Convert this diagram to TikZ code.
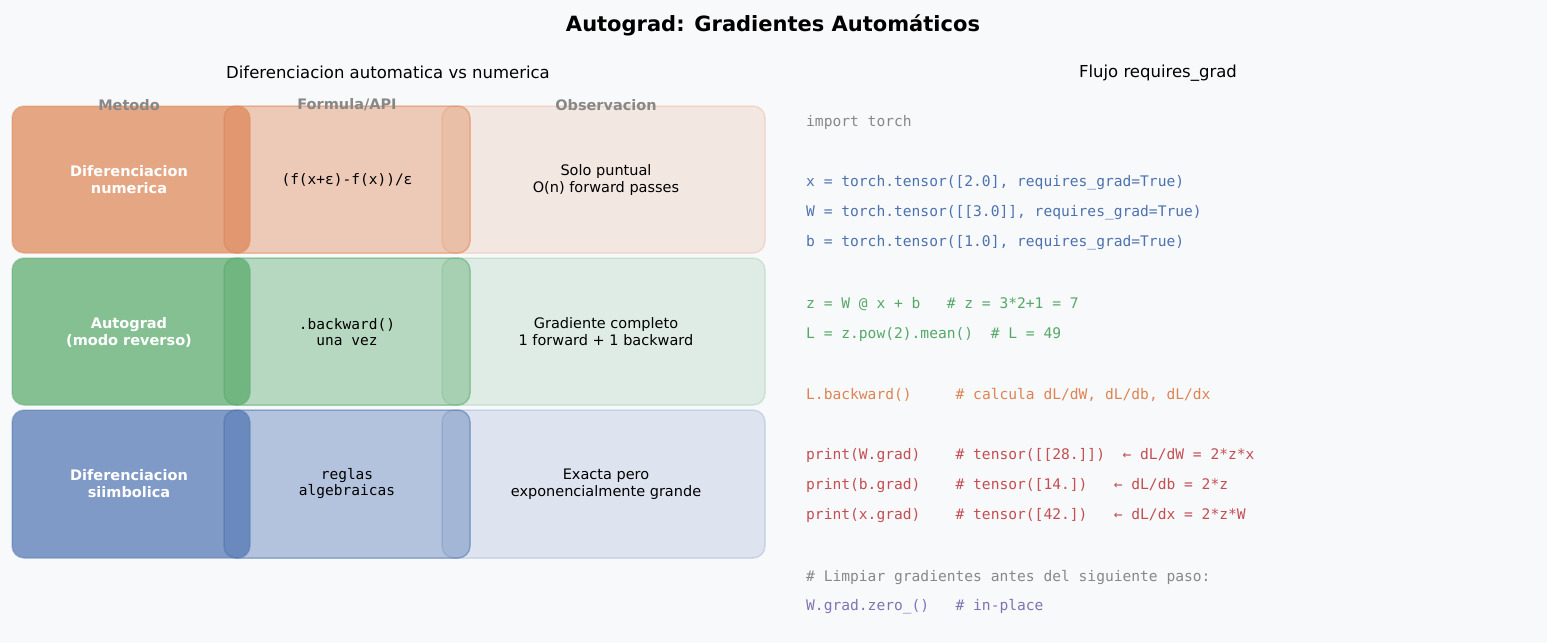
\documentclass[tikz,border=0pt]{standalone}
\usepackage{fontspec}
\setmainfont{DejaVu Sans}
\newfontfamily\codefont{DejaVu Sans Mono}
\begin{document}
\definecolor{bg}{HTML}{F8F9FB}
\definecolor{cor}{HTML}{DD8452}
\definecolor{cgr}{HTML}{55A868}
\definecolor{cbl}{HTML}{4C72B0}
\definecolor{cre}{HTML}{C44E52}
\definecolor{cpu}{HTML}{8172B3}
\definecolor{cgy}{HTML}{888888}
\begin{tikzpicture}[x=1pt,y=-1pt,
  cell/.style={rounded corners=12pt,line width=1.5pt},
  c1/.style={cell,fill=#1,fill opacity=0.7,draw=#1,draw opacity=0.35},
  c2/.style={cell,fill=#1,fill opacity=0.4,draw=#1,draw opacity=0.5},
  c3/.style={cell,fill=#1,fill opacity=0.15,draw=#1,draw opacity=0.2},
  hdr/.style={font=\fontsize{14.5}{16}\selectfont\bfseries,text=cgy},
  mtxt/.style={font=\fontsize{14.5}{17}\selectfont\bfseries,text=white,align=center},
  ftxt/.style={font=\codefont\fontsize{14.5}{16}\selectfont,align=center},
  otxt/.style={font=\fontsize{14.5}{17}\selectfont,align=center},
  code/.style={font=\codefont\fontsize{14.6}{16}\selectfont,anchor=west,inner sep=0pt}]
\fill[bg] (0,0) rectangle (1547,643);
\node[font=\fontsize{21}{24}\selectfont\bfseries] (title) at (773,25) {Autograd: Gradientes Automáticos};
\node[font=\fontsize{16.5}{19}\selectfont] (st1) at (388,72) {Diferenciacion automatica vs numerica};
\node[font=\fontsize{16.5}{19}\selectfont] (st2) at (1158,73) {Flujo requires\_grad};
% rows
\foreach \c/\ya/\yb in {cor/106/253,cgr/258/405,cbl/410/558}{
  \draw[c1=\c] (12,\ya) rectangle (250,\yb);
  \draw[c2=\c] (224,\ya) rectangle (470,\yb);
  \draw[c3=\c] (442,\ya) rectangle (765,\yb);
}
\node[hdr] (h1) at (129,105) {Metodo};
\node[hdr] (h2) at (347,105) {Formula/API};
\node[hdr] (h3) at (606,105) {Observacion};
\node[mtxt] (m1) at (129,180) {Diferenciacion\\numerica};
\node[ftxt] (f1) at (347,180) {(f(x+ε)-f(x))/ε};
\node[otxt] (o1) at (606,180) {Solo puntual\\O(n) forward passes};
\node[mtxt] (m2) at (129,332) {Autograd\\(modo reverso)};
\node[ftxt] (f2) at (347,332) {.backward()\\una vez};
\node[otxt] (o2) at (606,332) {Gradiente completo\\1 forward + 1 backward};
\node[mtxt] (m3) at (129,484) {Diferenciacion\\siimbolica};
\node[ftxt] (f3) at (347,484) {reglas\\algebraicas};
\node[otxt] (o3) at (606,484) {Exacta pero\\exponencialmente grande};
% code
\node[code,text=cgy] (l1) at (806,122) {import torch};
\node[code,text=cbl] (l2) at (806,183) {x = torch.tensor([2.0], requires\_grad=True)};
\node[code,text=cbl] (l3) at (806,213) {W = torch.tensor([[3.0]], requires\_grad=True)};
\node[code,text=cbl] (l4) at (806,243) {b = torch.tensor([1.0], requires\_grad=True)};
\node[code,text=cgr] (l5) at (806,304) {z = W @ x + b\ \ \ \# z = 3*2+1 = 7};
\node[code,text=cgr] (l6) at (806,334) {L = z.pow(2).mean()\ \ \# L = 49};
\node[code,text=cor] (l7) at (806,395) {L.backward()\ \ \ \ \ \# calcula dL/dW, dL/db, dL/dx};
\node[code,text=cre] (l8) at (806,456) {print(W.grad)\ \ \ \ \# tensor([[28.]])\ \ ← dL/dW = 2*z*x};
\node[code,text=cre] (l9) at (806,486) {print(b.grad)\ \ \ \ \# tensor([14.])\ \ \ ← dL/db = 2*z};
\node[code,text=cre] (l10) at (806,516) {print(x.grad)\ \ \ \ \# tensor([42.])\ \ \ ← dL/dx = 2*z*W};
\node[code,text=cgy] (l11) at (806,577) {\# Limpiar gradientes antes del siguiente paso:};
\node[code,text=cpu] (l12) at (806,607) {W.grad.zero\_()\ \ \ \# in-place};
\end{tikzpicture}
\end{document}
